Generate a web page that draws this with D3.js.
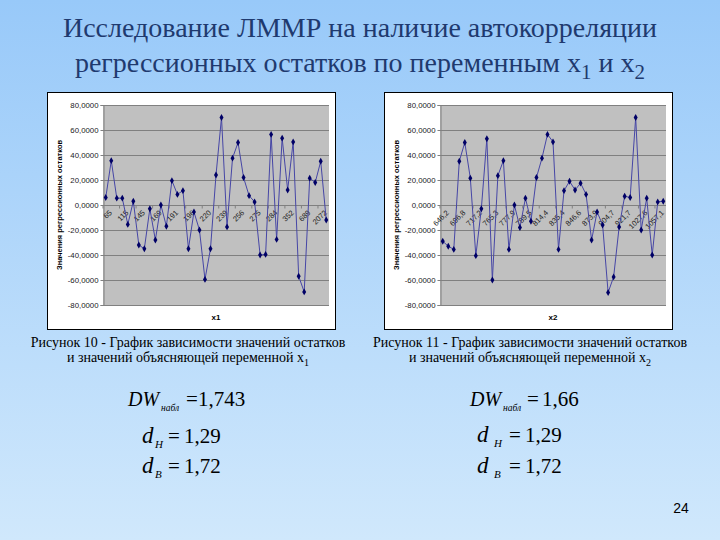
<!DOCTYPE html>
<html><head><meta charset="utf-8">
<script src="https://cdn.jsdelivr.net/npm/d3@7"></script>
<style>html,body{margin:0;padding:0;}svg{display:block;}
.serif{font-family:'Liberation Serif','Times New Roman',Times,serif;}
.sans{font-family:'Liberation Sans',Arial,sans-serif;}
</style>
</head><body>
<script>
// ---- data ----
const x1Labels = ['65','115','145','169','191','196','220','239','256','275','284','352','689','2072'];
const x2Labels = ['646,2','696,8','717,2','765,3','777,9','789,5','814,4','835,4','846,6','873,9','904,7','921,7','1027,6','1057,1'];
const resid1 = [6,35.5,5.5,5.5,-15.5,3,-32,-35,-3,-28,0,-17,19.5,8.5,11.5,-35,-5.5,-20,-59.5,-35,24,70,-17.5,37.5,50,22,7.5,2.5,-40,-39.5,56.5,-27.5,53.5,12,50.5,-57,-69.5,21.5,18,35,-12];
const resid2 = [-29,-33,-35.5,35,50,21.5,-40.5,-3,53,-60,23.5,35.5,-35.5,0,-18,5.5,-13,22,37.5,56.5,50.5,-35.5,11.5,19,12,17.5,8.5,-28,-5.5,-16,-70,-57.5,-17.5,7,6,70,-20,5.5,-40,2.5,3];
const yTicks = [80,60,40,20,0,-20,-40,-60,-80];
const labelStep = 3;
const yAxisTitle = 'Значения регрессионных остатков';
const titleLines = ['Исследование ЛММР на наличие автокорреляции', 'регрессионных остатков по переменным x'];
const captions = [
  ['Рисунок 10 - График зависимости значений остатков', 'и значений объясняющей переменной x', '1'],
  ['Рисунок 11 - График зависимости значений остатков', 'и значений объясняющей переменной x', '2']
];
const dwValues = ['1,743', '1,66'];
const dLow = '1,29', dHigh = '1,72';

const W = 720, H = 540;
const svg = d3.select('body').append('svg').attr('width', W).attr('height', H);
const defs = svg.append('defs');
const grad = defs.append('linearGradient').attr('id','bg').attr('x1',0).attr('y1',0).attr('x2',0).attr('y2',1);
grad.append('stop').attr('offset','0%').attr('stop-color','#98c9f9');
grad.append('stop').attr('offset','100%').attr('stop-color','#d0e8fc');
svg.append('rect').attr('width',W).attr('height',H).attr('fill','url(#bg)');

// title
const tcol = '#1f3a6f';
svg.append('text').attr('class','serif').attr('x',360).attr('y',37).attr('text-anchor','middle')
  .attr('font-size',28).attr('fill',tcol).text(titleLines[0]);
const t2 = svg.append('text').attr('class','serif').attr('x',360).attr('y',72).attr('text-anchor','middle')
  .attr('font-size',28).attr('fill',tcol);
t2.append('tspan').text(titleLines[1]);
t2.append('tspan').attr('dy',7).attr('font-size',21).text('1');
t2.append('tspan').attr('dy',-7).text(' и x');
t2.append('tspan').attr('dy',7).attr('font-size',21).text('2');

function drawChart(ox, values, labels, xTitle) {
  const g = svg.append('g').attr('transform',`translate(${ox},0)`);
  g.append('rect').attr('x',47.5).attr('y',92.5).attr('width',288).attr('height',237)
    .attr('fill','#fff').attr('stroke','#000').attr('stroke-width',1);
  const L = 103, R = 329, T = 105, B = 305;
  const cats = d3.range(values.length);
  const x = d3.scalePoint().domain(cats).range([L,R]).padding(0.5);
  const y = d3.scaleLinear().domain([-80,80]).range([B,T]);
  g.append('rect').attr('x',L).attr('y',T).attr('width',R-L).attr('height',B-T).attr('fill','#c0c0c0');
  g.append('g').selectAll('line').data(yTicks).join('line')
    .attr('x1',L).attr('x2',R).attr('y1',d=>Math.round(y(d))+0.5).attr('y2',d=>Math.round(y(d))+0.5)
    .attr('stroke','#808080').attr('stroke-width',1);
  const ya = g.append('g').attr('transform',`translate(${L+0.5},0)`)
    .call(d3.axisLeft(y).tickValues(yTicks).tickSize(3).tickPadding(2)
      .tickFormat(d=>d.toFixed(4).replace('.',',')));
  ya.attr('font-family',null).attr('font-size',null);
  ya.select('.domain').attr('stroke','#808080');
  ya.selectAll('.tick line').attr('stroke','#808080');
  ya.selectAll('.tick text').attr('class','sans').attr('font-size',7.8).attr('fill','#222');
  const y0 = Math.round(y(0))+0.5;
  g.append('line').attr('x1',L).attr('x2',R).attr('y1',y0).attr('y2',y0).attr('stroke','#808080');
  const step = (R-L)/values.length;
  g.append('g').selectAll('line').data(d3.range(0, values.length+1, labelStep)).join('line')
    .attr('x1',d=>L+d*step).attr('x2',d=>L+d*step).attr('y1',y0).attr('y2',y0+3).attr('stroke','#808080');
  g.append('g').selectAll('text').data(labels).join('text')
    .attr('class','sans')
    .attr('transform',(d,i)=>`translate(${x(i*labelStep)+3},${y0+4}) rotate(-45)`)
    .attr('text-anchor','end').attr('dy','0.7em')
    .attr('font-size',7.5).attr('fill','#222')
    .text(d=>d);
  g.append('path').datum(values)
    .attr('d', d3.line().x((d,i)=>x(i)).y(d=>y(d)))
    .attr('fill','none').attr('stroke','#4646a6').attr('stroke-width',1);
  g.append('g').selectAll('path').data(values).join('path')
    .attr('transform',(d,i)=>`translate(${x(i)},${y(d)})`)
    .attr('d', d3.symbol().type(d3.symbolDiamond).size(14))
    .attr('fill','#000066');
  g.append('text').attr('class','sans').attr('transform',`translate(62,${(T+B)/2}) rotate(-90)`).attr('text-anchor','middle')
    .attr('font-size',7.5).attr('font-weight','bold').text(yAxisTitle);
  g.append('text').attr('class','sans').attr('x',(L+R)/2).attr('y',320).attr('text-anchor','middle')
    .attr('font-size',8).attr('font-weight','bold').text(xTitle);
}
drawChart(0, resid1, x1Labels, 'x1');
drawChart(337, resid2, x2Labels, 'x2');

// captions
[[188,0],[530,1]].forEach(([cx,i])=>{
  svg.append('text').attr('class','serif').attr('x',cx).attr('y',347).attr('text-anchor','middle')
    .attr('font-size',14).attr('fill','#000').text(captions[i][0]);
  const t = svg.append('text').attr('class','serif').attr('x',cx).attr('y',362).attr('text-anchor','middle')
    .attr('font-size',14).attr('fill','#000');
  t.append('tspan').text(captions[i][1]);
  t.append('tspan').attr('dy',4).attr('font-size',10).text(captions[i][2]);
});

// formulas
function formula(x0, yb, main, sub, subX, eqX, valX, val, isDW) {
  svg.append('text').attr('class','serif').attr('x',x0).attr('y',yb).attr('font-style','italic')
    .attr('font-size',isDW?20:23).text(main);
  svg.append('text').attr('class','serif').attr('x',subX).attr('y',yb+5).attr('font-style','italic')
    .attr('font-size',isDW?9.5:11).text(sub);
  svg.append('text').attr('class','serif').attr('x',eqX).attr('y',yb).attr('font-size',21).text('=');
  svg.append('text').attr('class','serif').attr('x',valX).attr('y',yb).attr('font-size',21).text(val);
}
formula(128, 406, 'DW', 'набл', 161, 186, 198, dwValues[0], true);
formula(142, 443, 'd', 'Н', 155, 168, 184, dLow, false);
formula(142, 473, 'd', 'В', 155, 168, 184, dHigh, false);
formula(470, 406, 'DW', 'набл', 503, 527, 542, dwValues[1], true);
formula(477, 442, 'd', 'Н', 494, 509, 525, dLow, false);
formula(477, 473, 'd', 'В', 494, 509, 525, dHigh, false);

svg.append('text').attr('class','sans').attr('x',681).attr('y',513).attr('text-anchor','middle')
  .attr('font-size',14).text('24');
</script>
</body></html>
